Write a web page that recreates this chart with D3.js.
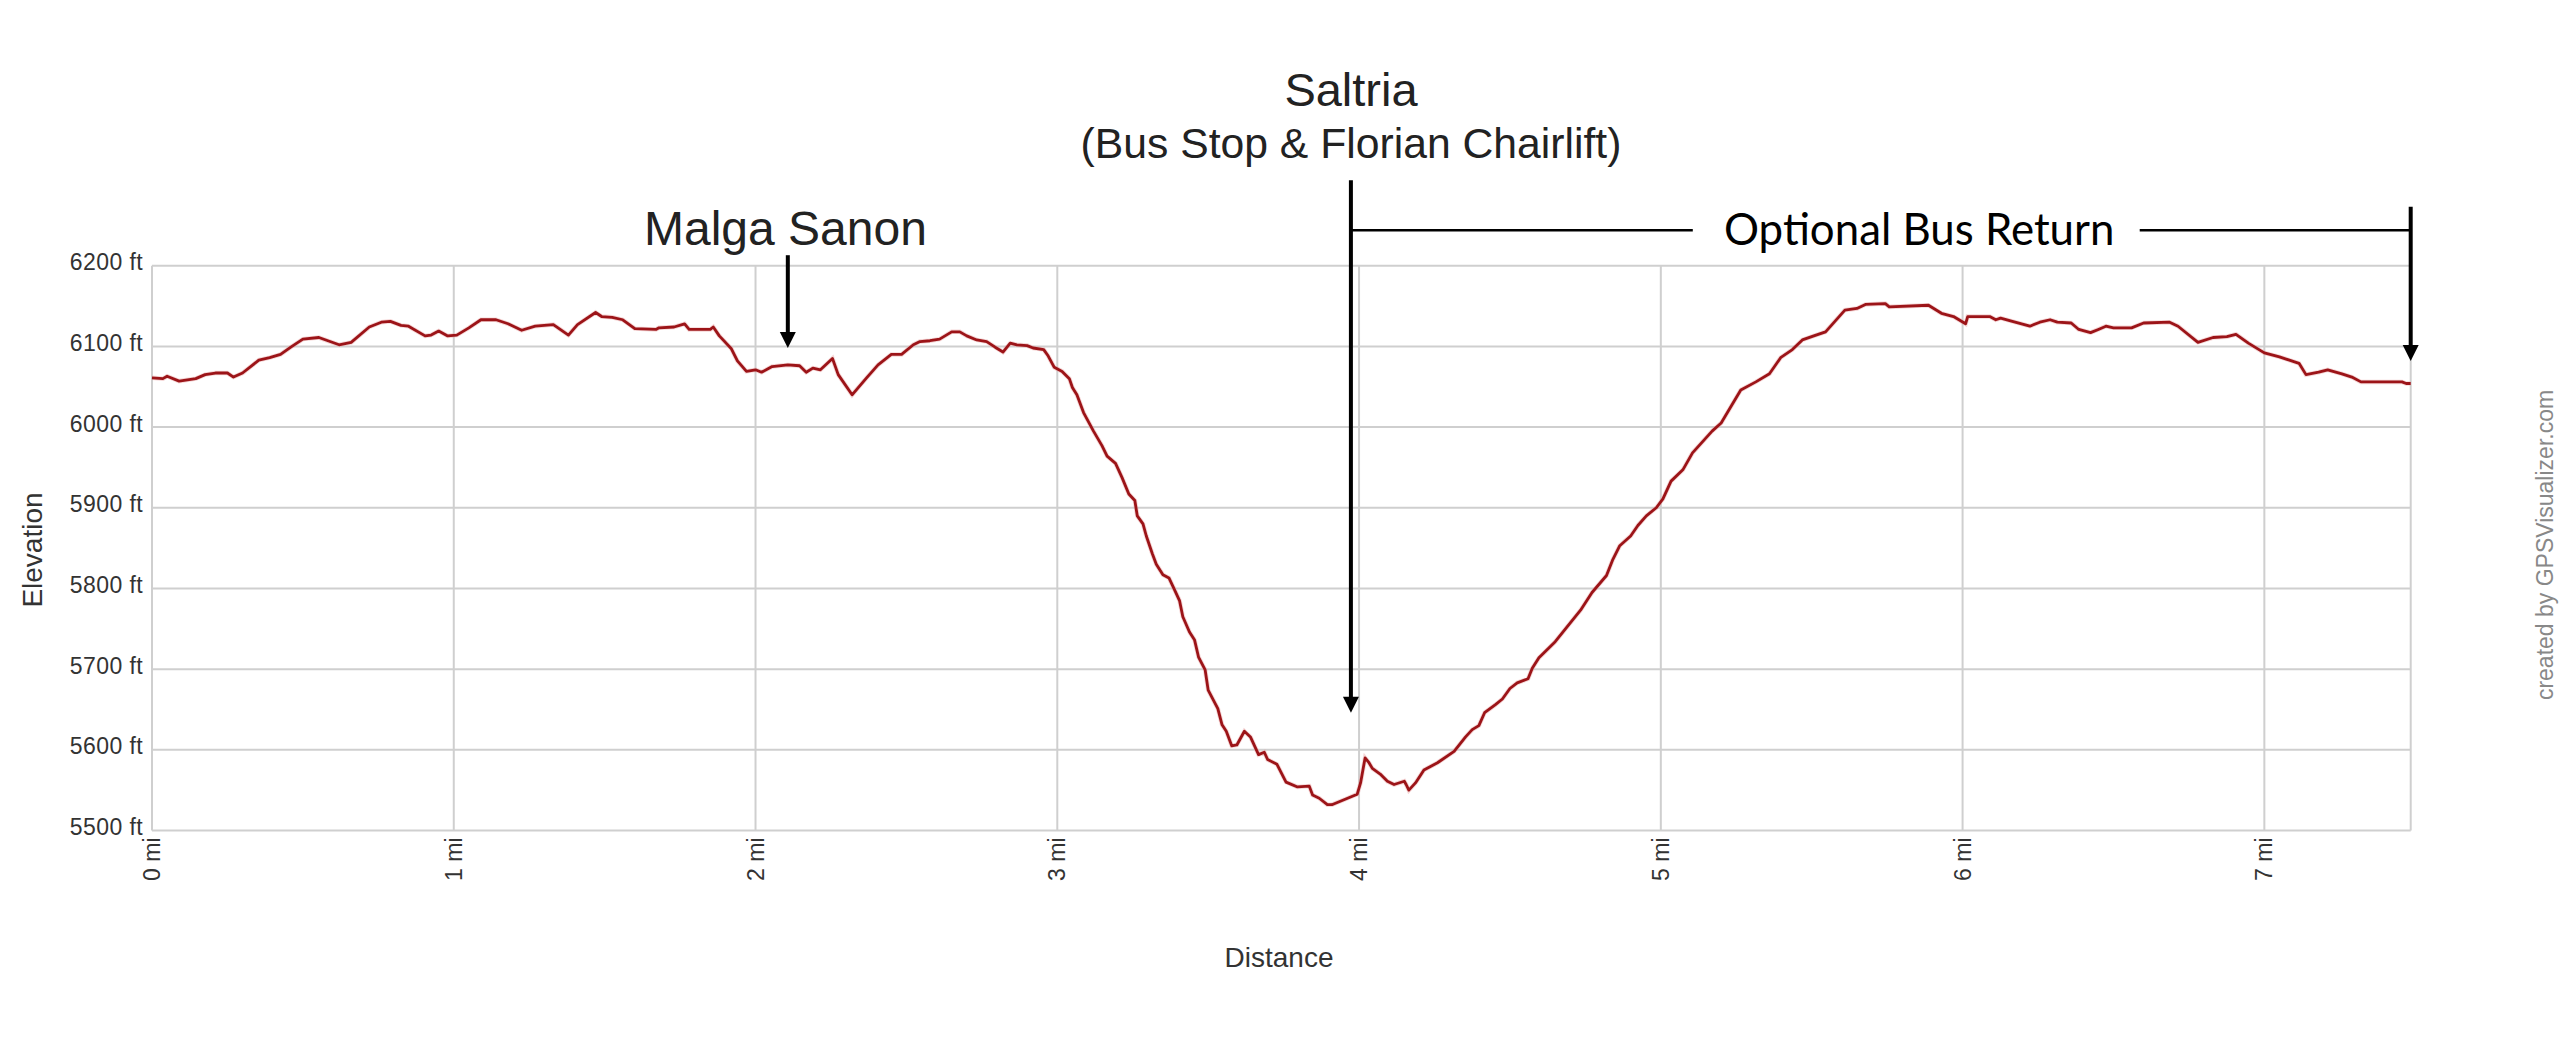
<!DOCTYPE html>
<html>
<head>
<meta charset="utf-8">
<title>Elevation profile</title>
<script src="https://cdn.jsdelivr.net/npm/d3@7"></script>
<style>
    body { margin: 0; background: #fff; }
    svg { display: block; }
</style>
</head>
<body>
<div id="plot"></div>
<script>
"use strict";

// same order in both arrays
const distanceMi = [
    0, .036, .05, .09, .145, .176, .21, .25, .27, .30,
    .354, .39, .426, .46, .50, .553, .59, .62, .66, .72,
    .76, .79, .825, .85, .905, .925, .95, .98, 1.01, 1.05,
    1.09, 1.14, 1.18, 1.225, 1.27, 1.33, 1.38, 1.41, 1.47, 1.49,
    1.525, 1.56, 1.60, 1.67, 1.68, 1.73, 1.765, 1.78, 1.85, 1.86,
    1.88, 1.92, 1.94, 1.97, 2.0, 2.02, 2.055, 2.107, 2.146, 2.168,
    2.19, 2.215, 2.255, 2.274, 2.32, 2.368, 2.406, 2.45, 2.484, 2.523,
    2.545, 2.578, 2.61, 2.65, 2.677, 2.70, 2.733, 2.766, 2.794, 2.82,
    2.844, 2.866, 2.90, 2.92, 2.955, 2.97, 2.99, 3.016, 3.04, 3.05,
    3.065, 3.087, 3.12, 3.148, 3.165, 3.193, 3.215, 3.237, 3.257, 3.265,
    3.284, 3.295, 3.315, 3.328, 3.35, 3.37, 3.389, 3.405, 3.416, 3.438,
    3.455, 3.468, 3.49, 3.50, 3.532, 3.546, 3.56, 3.578, 3.595, 3.62,
    3.64, 3.667, 3.686, 3.697, 3.728, 3.758, 3.796, 3.835, 3.846, 3.868,
    3.895, 3.91, 3.956, 3.994, 4.005, 4.02, 4.033, 4.044, 4.07, 4.094,
    4.116, 4.15, 4.156, 4.165, 4.187, 4.215, 4.26, 4.315, 4.353, 4.375,
    4.397, 4.416, 4.452, 4.475, 4.50, 4.524, 4.56, 4.574, 4.596, 4.65,
    4.684, 4.734, 4.772, 4.82, 4.84, 4.864, 4.90, 4.924, 4.952, 4.985,
    5.007, 5.034, 5.073, 5.105, 5.17, 5.2, 5.227, 5.265, 5.315, 5.36,
    5.397, 5.436, 5.469, 5.507, 5.546, 5.61, 5.65, 5.678, 5.744, 5.757,
    5.887, 5.93, 5.97, 6.01, 6.017, 6.09, 6.11, 6.126, 6.165, 6.223,
    6.256, 6.29, 6.314, 6.36, 6.385, 6.424, 6.45, 6.475, 6.5, 6.56,
    6.6, 6.686, 6.714, 6.78, 6.83, 6.876, 6.906, 6.947, 7.0, 7.05,
    7.115, 7.138, 7.18, 7.21, 7.257, 7.29, 7.32, 7.456, 7.47, 7.485
];
const elevationFt = [
    6061, 6060, 6063, 6057, 6060, 6065, 6067, 6067, 6062, 6067,
    6083, 6086, 6090, 6099, 6109, 6111, 6106, 6102, 6105, 6124,
    6130, 6131, 6126, 6125, 6113, 6114, 6119, 6113, 6114, 6123,
    6133, 6133, 6128, 6120, 6125, 6127, 6114, 6127, 6142, 6137,
    6136, 6133, 6122, 6121, 6123, 6124, 6128, 6121, 6121, 6124,
    6113, 6097, 6082, 6069, 6071, 6068, 6075, 6077, 6076, 6068,
    6073, 6071, 6085, 6065, 6040, 6061, 6077, 6090, 6090, 6102,
    6106, 6107, 6109, 6118, 6118, 6113, 6108, 6106, 6099, 6093,
    6104, 6102, 6101, 6098, 6096, 6088, 6074, 6069, 6060, 6049,
    6040, 6018, 5995, 5977, 5964, 5955, 5937, 5917, 5909, 5890,
    5880, 5865, 5843, 5830, 5817, 5813, 5798, 5785, 5765, 5746,
    5736, 5715, 5699, 5674, 5651, 5631, 5623, 5605, 5606, 5623,
    5616, 5594, 5597, 5588, 5582, 5560, 5554, 5555, 5544, 5540,
    5532, 5532, 5539, 5545, 5559, 5590, 5584, 5577, 5570, 5561,
    5557, 5561, 5557, 5550, 5559, 5575, 5584, 5598, 5616, 5625,
    5630, 5646, 5656, 5663, 5676, 5683, 5688, 5701, 5714, 5734,
    5750, 5773, 5795, 5816, 5835, 5853, 5865, 5878, 5890, 5900,
    5911, 5933, 5947, 5968, 5995, 6005, 6022, 6046, 6056, 6066,
    6086, 6096, 6108, 6113, 6118, 6145, 6147, 6152, 6153, 6149,
    6151, 6141, 6137, 6128, 6137, 6137, 6133, 6135, 6131, 6125,
    6130, 6133, 6130, 6129, 6121, 6117, 6121, 6125, 6123, 6123,
    6129, 6130, 6125, 6105, 6111, 6112, 6115, 6104, 6092, 6087,
    6079, 6065, 6068, 6071, 6066, 6062, 6056, 6056, 6054, 6054
];

const xTicks = [0, 1, 2, 3, 4, 5, 6, 7];
const yTicks = [5500, 5600, 5700, 5800, 5900, 6000, 6100, 6200];
const xEnd = 7.485;

const msm = {
    width: 2560,
    height: 1059,
    left: 152,
    right: 2410.7,
    top: 265.7,
    bottom: 830.5
};

const plotContainer = d3.select("#plot")
    .append("svg")
    .attr("width", msm.width)
    .attr("height", msm.height);

const xScale = d3.scaleLinear().domain([0, xEnd]).range([msm.left, msm.right]);
const yScale = d3.scaleLinear().domain([5500, 6200]).range([msm.bottom, msm.top]);

const arial = "'Liberation Sans', Arial, sans-serif";

drawGrid();
drawProfile();
drawAxisTitles();
drawAnnotations();

function drawGrid() {
    // ticks double as the grid, so tick size spans the whole plot
    const xAxis = d3.axisBottom(xScale)
        .offset(0)
        .tickValues(xTicks.concat([xEnd]))
        .tickSize(-(msm.bottom - msm.top))
        .tickFormat((d) => d === xEnd ? "" : d + " mi");
    const xG = plotContainer.append("g")
        .attr("transform", "translate(0," + msm.bottom + ")")
        .call(xAxis);
    xG.select(".domain").remove();
    xG.selectAll(".tick line").attr("stroke", "#cfcfcf").attr("stroke-width", 2);
    xG.selectAll(".tick text")
        .attr("transform", "rotate(-90)")
        .attr("x", -7)
        .attr("y", 0)
        .attr("dy", "0.35em")
        .attr("text-anchor", "end")
        .style("font-family", arial)
        .style("font-size", "23px")
        .attr("fill", "#333");

    const yAxis = d3.axisLeft(yScale)
        .offset(0)
        .tickValues(yTicks)
        .tickSize(-(msm.right - msm.left))
        .tickFormat((d) => d + " ft");
    const yG = plotContainer.append("g")
        .attr("transform", "translate(" + msm.left + ",0)")
        .call(yAxis);
    yG.select(".domain").remove();
    yG.selectAll(".tick line").attr("stroke", "#cfcfcf").attr("stroke-width", 2);
    yG.selectAll(".tick text")
        .attr("x", -9)
        .attr("dy", "0.2em")
        .style("font-family", arial)
        .style("font-size", "23px")
        .style("letter-spacing", "0.4px")
        .attr("fill", "#333");
}

function drawProfile() {
    const line = d3.line()
        .x((d, i) => xScale(distanceMi[i]))
        .y((d, i) => yScale(elevationFt[i]));
    // pale halo first, the source picture is a blurry screenshot
    plotContainer.append("path")
        .attr("d", line(distanceMi))
        .attr("fill", "none")
        .attr("stroke", "#e9a3a3")
        .attr("stroke-width", 4.5)
        .attr("stroke-opacity", 0.45);
    plotContainer.append("path")
        .attr("d", line(distanceMi))
        .attr("fill", "none")
        .attr("stroke", "#9c1418")
        .attr("stroke-width", 2.8)
        .attr("stroke-linejoin", "round");
}

function drawAxisTitles() {
    plotContainer.append("text")
        .attr("x", 1279)
        .attr("y", 967)
        .attr("text-anchor", "middle")
        .style("font-family", arial)
        .style("font-size", "28px")
        .attr("fill", "#333")
        .text("Distance");

    plotContainer.append("text")
        .attr("transform", "translate(42,550) rotate(-90)")
        .attr("text-anchor", "middle")
        .style("font-family", arial)
        .style("font-size", "28px")
        .attr("fill", "#333")
        .text("Elevation");

    plotContainer.append("text")
        .attr("transform", "translate(2553,545) rotate(-90)")
        .attr("text-anchor", "middle")
        .style("font-family", arial)
        .style("font-size", "23px")
        .attr("fill", "#888")
        .text("created by GPSVisualizer.com");
}

function drawArrow(mi, fromFt, toFt) {
    const x = xScale(mi);
    const tip = yScale(toFt);
    plotContainer.append("line")
        .attr("x1", x).attr("x2", x)
        .attr("y1", yScale(fromFt)).attr("y2", tip - 10)
        .attr("stroke", "#000")
        .attr("stroke-width", 4);
    plotContainer.append("path")
        .attr("d", "M" + (x - 8) + "," + (tip - 16) + "L" + (x + 8) + "," + (tip - 16) + "L" + x + "," + tip + "Z")
        .attr("fill", "#000");
}

function drawAnnotations() {
    drawArrow(2.107, 6213, 6098);
    drawArrow(3.973, 6306, 5646);
    drawArrow(xEnd, 6273, 6082);

    [[3.973, 5.106], [6.587, xEnd]].forEach((d) => {
        plotContainer.append("line")
            .attr("x1", xScale(d[0])).attr("x2", xScale(d[1]))
            .attr("y1", yScale(6244)).attr("y2", yScale(6244))
            .attr("stroke", "#000")
            .attr("stroke-width", 2.6);
    });

    plotContainer.append("text")
        .attr("x", 644).attr("y", 245)
        .style("font-family", arial)
        .style("font-size", "48px")
        .attr("fill", "#222")
        .text("Malga Sanon");

    plotContainer.append("text")
        .attr("x", 1351).attr("y", 106)
        .attr("text-anchor", "middle")
        .style("font-family", arial)
        .style("font-size", "47px")
        .attr("fill", "#222")
        .text("Saltria");

    plotContainer.append("text")
        .attr("x", 1351).attr("y", 158)
        .attr("text-anchor", "middle")
        .style("font-family", arial)
        .style("font-size", "42.7px")
        .attr("fill", "#222")
        .text("(Bus Stop & Florian Chairlift)");

    plotContainer.append("text")
        .attr("x", 1724).attr("y", 245)
        .style("font-family", "Lato, sans-serif")
        .style("font-size", "43.8px")
        .attr("fill", "#000")
        .text("Optional Bus Return");
}
</script>
</body>
</html>
